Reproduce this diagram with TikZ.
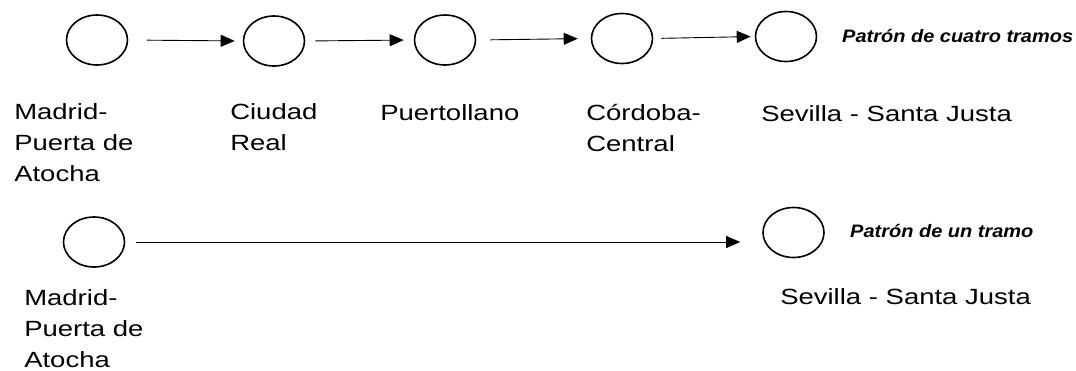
\documentclass[tikz,border=0pt]{standalone}
\usepackage{fontspec}
\setmainfont{Liberation Sans}
\usetikzlibrary{shapes.geometric,arrows.meta}

\tikzset{
  station/.style={draw, ellipse, line width=1.6pt, inner sep=0pt,
    minimum width=61pt, minimum height=50pt},
  link/.style={line width=0.9pt, -{Triangle[length=14pt,width=12pt]}},
  % multi-line labels are placed by the baseline of their last line
  place/.style={anchor=base west, inner sep=0pt, align=left,
    xscale=1.25, transform shape,
    font=\fontsize{22pt}{31pt}\selectfont},
  pattern/.style={anchor=base west, inner sep=0pt,
    xscale=1.11, transform shape,
    font=\fontsize{18pt}{22pt}\selectfont\bfseries\itshape}
}

\begin{document}
\begin{tikzpicture}[x=1pt, y=-1pt]
  \useasboundingbox (0,0) rectangle (1076,370);

  % four-leg pattern
  \node[station] (a1) at (97,40) {};
  \node[station] (a2) at (274,41) {};
  \node[station] (a3) at (445,40) {};
  \node[station] (a4) at (622,38.5) {};
  \node[station] (a5) at (786,36.5) {};

  \draw[link, shorten <=18.5pt, shorten >=8pt] (a1.east) -- (a2.west);
  \draw[link, shorten <=10pt, shorten >=10pt] (a2.east) -- (a3.west);
  \draw[link, shorten <=14pt, shorten >=13pt] (a3.east) -- (a4.west);
  \draw[link, shorten <=8pt, shorten >=4pt] (a4.east) -- (a5.west);

  \node[place] (la1) at (14,181) {Madrid-\\Puerta de\\Atocha};
  \node[place] (la2) at (230,150) {Ciudad\\Real};
  \node[place] (la3) at (380,120) {Puertollano};
  \node[place] (la4) at (586,151) {Córdoba-\\Central};
  \node[place] (la5) at (761,121) {Sevilla - Santa Justa};
  \node[pattern] (pa) at (842,42) {Patrón de cuatro tramos};

  % one-leg pattern
  \node[station] (b1) at (94,242) {};
  \node[station] (b2) at (793.5,232.5) {};

  \draw[link, shorten <=11pt, shorten >=22pt] (b1.east) -- (b1.east -| b2.west);

  \node[place] (lb1) at (24,367) {Madrid-\\Puerta de\\Atocha};
  \node[place] (lb2) at (780,304) {Sevilla - Santa Justa};
  \node[pattern] (pb) at (850,237) {Patrón de un tramo};
\end{tikzpicture}
\end{document}
